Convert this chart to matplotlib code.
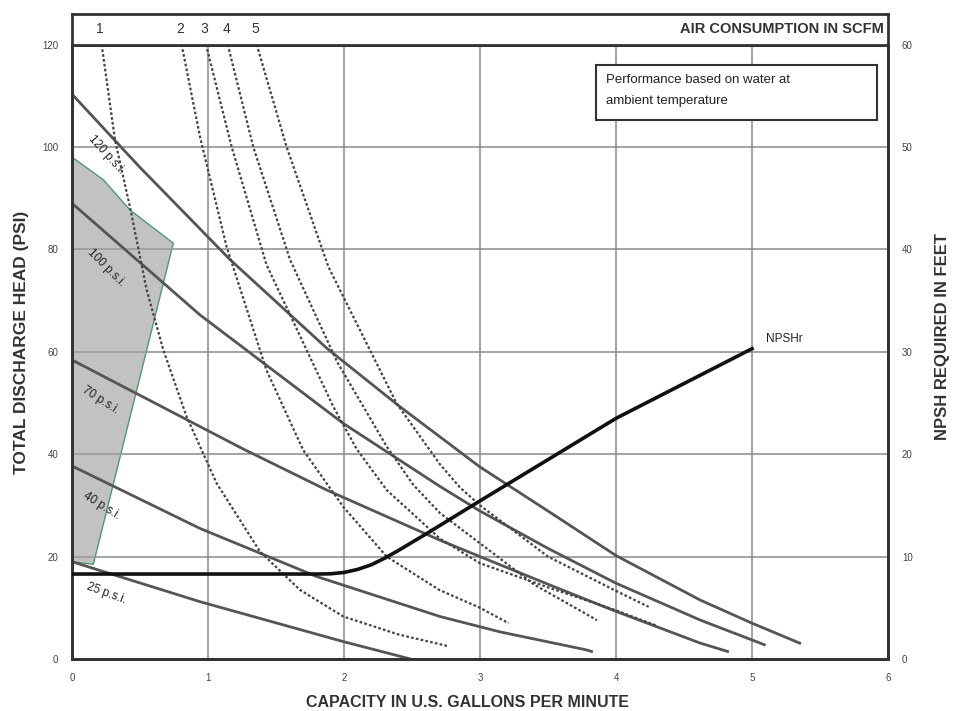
import numpy as np
import matplotlib.pyplot as plt
from matplotlib.patches import Polygon, Rectangle

plt.rcParams['font.family'] = ['Liberation Sans', 'DejaVu Sans']

# pressure curves (psi vs gpm)
psi_120_x = [0, 0.5, 1.162, 1.873, 2.41, 3.0, 3.5, 4.0, 4.62, 5.0, 5.36]
psi_120_y = [110.3, 96.0, 78.0, 60.7, 49.3, 37.5, 28.9, 20.2, 11.5, 7.0, 3.0]
psi_100_x = [0, 0.941, 1.995, 2.706, 3.0, 3.5, 4.0, 4.62, 5.10]
psi_100_y = [89.0, 67.2, 46.0, 33.7, 28.9, 21.6, 14.8, 7.6, 2.7]
psi_70_x = [0, 0.941, 1.26, 1.873, 2.706, 3.0, 3.5, 4.0, 4.62, 4.83]
psi_70_y = [58.4, 45.4, 41.0, 33.0, 23.2, 20.0, 14.6, 9.3, 3.1, 1.4]
psi_40_x = [0, 0.941, 1.8, 2.706, 3.147, 3.78, 3.83]
psi_40_y = [37.7, 25.5, 16.1, 8.3, 5.3, 1.8, 1.4]
psi_25_x = [0, 0.941, 1.995, 2.49]
psi_25_y = [19.0, 11.2, 3.4, 0.0]
psi_labels = ['120 p.s.i.', '100 p.s.i.', '70 p.s.i.', '40 p.s.i.', '25 p.s.i.']
psi_label_x = [0.25, 0.25, 0.21, 0.22, 0.25]
psi_label_y = [98.5, 76.5, 50.5, 30.0, 12.8]
psi_label_rot = [-48, -45, -33, -32, -20]

# air consumption curves (scfm)
scfm_1_x = [0.218, 0.316, 0.426, 0.549, 0.671, 0.843, 1.064, 1.382, 1.676, 1.995, 2.4, 2.767]
scfm_1_y = [120, 101.4, 88.3, 72.1, 60.4, 47.3, 34.3, 21.0, 13.5, 8.3, 4.8, 2.5]
scfm_2_x = [0.806, 0.941, 1.137, 1.43, 1.70, 1.995, 2.314, 2.7, 3.0, 3.21]
scfm_2_y = [120, 102.0, 80.5, 56.4, 40.8, 29.7, 20.0, 13.5, 10.0, 7.0]
scfm_3_x = [0.985, 1.174, 1.43, 1.921, 2.093, 2.314, 2.706, 3.0, 3.5, 4.0, 4.3]
scfm_3_y = [120, 100.0, 77.0, 49.3, 41.0, 33.0, 23.5, 18.7, 14.0, 9.5, 6.5]
scfm_4_x = [1.145, 1.333, 1.603, 1.95, 2.314, 2.51, 2.706, 3.0, 3.4, 3.86]
scfm_4_y = [120, 100.0, 78.0, 58.0, 41.5, 34.0, 28.5, 22.6, 14.5, 7.6]
scfm_5_x = [1.358, 1.578, 1.885, 2.387, 2.706, 2.853, 3.0, 3.5, 4.0, 4.24]
scfm_5_y = [120, 100.0, 76.6, 49.9, 38.0, 33.5, 30.0, 20.0, 13.3, 10.2]
scfm_labels = ['1', '2', '3', '4', '5']

# NPSHr (feet)
npsh_x = [0, 1.8, 1.9, 2.0, 2.1, 2.2, 2.3, 2.4, 2.608, 2.97, 4.0, 5.0]
npsh_y = [8.3, 8.3, 8.32, 8.45, 8.75, 9.2, 9.85, 10.6, 12.25, 15.2, 23.5, 30.3]

# shaded region
shade_x = [0, 0.23, 0.426, 0.745, 0.157, 0]
shade_y = [98.0, 93.6, 87.7, 81.2, 18.5, 19.0]

note = ['Performance based on water at', 'ambient temperature']

fig = plt.figure(figsize=(9.56, 7.11), dpi=100)
ax = fig.add_axes([0.0753, 0.0731, 0.8536, 0.8643])
ax.set_xlim(0, 6)
ax.set_ylim(0, 120)

shade = Polygon(list(zip(shade_x, shade_y)), closed=True, facecolor='#c2c2c2',
                edgecolor='#4f9a6a', linewidth=1.0, zorder=1)
ax.add_patch(shade)

ax.set_xticks(range(0, 7))
ax.set_yticks(range(0, 121, 20))
ax.grid(True, color='#8a8a8a', linewidth=1.1, zorder=0)
ax.tick_params(length=0, labelsize=7, colors='#444444', pad=10)

# grid shows white through the shaded area
for gy in [20, 40, 60, 80]:
    ln = ax.axhline(gy, color='white', linewidth=1.1, zorder=1.5)
    ln.set_clip_path(shade)

solid = dict(color='#555555', linewidth=2.0, zorder=3, solid_capstyle='butt')
for xs, ys in [(psi_120_x, psi_120_y), (psi_100_x, psi_100_y), (psi_70_x, psi_70_y),
               (psi_40_x, psi_40_y), (psi_25_x, psi_25_y)]:
    ax.plot(xs, ys, **solid)

for lab, lx, ly, r in zip(psi_labels, psi_label_x, psi_label_y, psi_label_rot):
    ax.text(lx, ly, lab, rotation=r, ha='center', va='center', fontsize=8.5,
            color='#222222', zorder=5, rotation_mode='anchor')

dash = dict(color='#444444', linewidth=1.6, linestyle=(0, (1.2, 1.0)), zorder=3)
for xs, ys in [(scfm_1_x, scfm_1_y), (scfm_2_x, scfm_2_y), (scfm_3_x, scfm_3_y),
               (scfm_4_x, scfm_4_y), (scfm_5_x, scfm_5_y)]:
    ax.plot(xs, ys, **dash)

ax2 = ax.twinx()
ax2.set_ylim(0, 60)
ax2.set_yticks(range(0, 61, 10))
ax2.tick_params(length=0, labelsize=7, colors='#444444', pad=10)
ax2.plot(npsh_x, npsh_y, color='#111111', linewidth=2.6, zorder=4)
ax2.text(5.1, 31.2, 'NPSHr', fontsize=8.5, color='#222222', va='center')

for a in (ax, ax2):
    for s in a.spines.values():
        s.set_linewidth(2.0)
        s.set_color('#333333')

# note box
ax.add_patch(Rectangle((3.853, 105.3), 2.066, 10.7, facecolor='white',
                       edgecolor='#333333', linewidth=1.5, zorder=6))
ax.text(3.93, 113.0, note[0], fontsize=9.5, va='center', ha='left', color='#222222', zorder=7)
ax.text(3.93, 108.9, note[1], fontsize=9.5, va='center', ha='left', color='#222222', zorder=7)

ax.set_xlabel('CAPACITY IN U.S. GALLONS PER MINUTE', fontsize=11.5, fontweight='bold',
              color='#333333')
ax.xaxis.set_label_coords(0.485, -0.058)
ax.set_ylabel('TOTAL DISCHARGE HEAD (PSI)', fontsize=12.5, fontweight='bold',
              color='#333333')
ax.yaxis.set_label_coords(-0.053, 0.515)
ax2.set_ylabel('NPSH REQUIRED IN FEET', fontsize=12, fontweight='bold',
               color='#333333')
ax2.yaxis.set_label_coords(1.058, 0.525)

# top strip
top = fig.add_axes([0.0753, 0.9374, 0.8536, 0.0429])
top.set_xlim(0, 6)
top.set_ylim(0, 1)
top.set_xticks([])
top.set_yticks([])
for s in top.spines.values():
    s.set_linewidth(2.0)
    s.set_color('#333333')
for lab, xs in zip(scfm_labels, [scfm_1_x, scfm_2_x, scfm_3_x, scfm_4_x, scfm_5_x]):
    top.text(xs[0] - 0.01, 0.5, lab, ha='center', va='center', fontsize=10, color='#333333')
top.text(5.97, 0.5, 'AIR CONSUMPTION IN SCFM', ha='right', va='center', fontsize=10.5,
         fontweight='bold', color='#333333')

fig.savefig('out.png', dpi=100)
